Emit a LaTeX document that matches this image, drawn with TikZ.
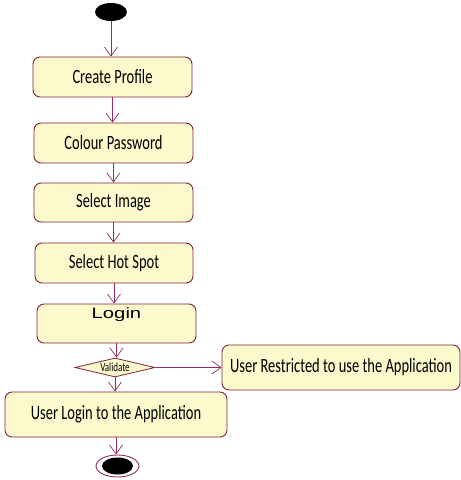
\documentclass[tikz,border=0pt]{standalone}
\usepackage{fontspec}
\setmainfont{Carlito}
\newfontfamily\arialfont{Liberation Sans}
\usetikzlibrary{shapes.geometric,arrows.meta}
\definecolor{flowline}{RGB}{145,45,100}
\definecolor{boxline}{RGB}{125,35,60}
\definecolor{boxfill}{RGB}{252,249,204}
% labels are set in a tall, narrow cut
\newcommand\tallText[1]{\scalebox{1}[1.4]{#1}}
\tikzset{
  activity/.style={draw=boxline, line width=0.9pt, fill=boxfill, rounded corners=7pt,
    minimum width=159pt, minimum height=40pt, inner sep=0pt,
    font=\fontsize{14.5}{16}\selectfont},
  flow/.style={draw=flowline, line width=0.7pt,
    -{Straight Barb[length=9pt,width=13pt,line width=0.7pt]}},
  decision/.style={diamond, draw=boxline, line width=0.8pt, fill=boxfill,
    minimum width=80pt, minimum height=19pt, inner sep=0pt, aspect=4.2,
    font=\fontsize{9}{10}\selectfont},
}
\begin{document}
\begin{tikzpicture}[x=1pt,y=-1pt]
\useasboundingbox (0,0) rectangle (461,480);

% initial node
\node[ellipse, fill=black, minimum width=32pt, minimum height=18pt, inner sep=0pt] (start) at (111,12) {};

% activities
\node[activity] (create) at (112.5,77) {\tallText{Create Profile}};
\node[activity] (colour) at (113.5,143) {\tallText{Colour Password}};
\node[activity, minimum height=39pt] (image) at (113.5,202.5) {\tallText{Select Image}};
\node[activity, minimum width=158pt] (hotspot) at (114,263) {\tallText{Select Hot Spot}};
\node[activity, minimum height=39pt, font=\arialfont\fontsize{15}{16}\selectfont] (login) at (116.5,323.5)
  {\raisebox{21pt}{\scalebox{1.35}[1]{Login}}};
\node[decision] (validate) at (115,367.5) {\tallText{Validate}};
\node[activity, minimum width=238pt, minimum height=45pt] (restricted) at (341,367.5) {\tallText{User Restricted to use the Application}};
\node[activity, minimum width=222pt, minimum height=45pt] (userlogin) at (116,414.5) {\tallText{User Login to the Application}};

% final node
\node[ellipse, draw=flowline, line width=0.9pt, fill=white, minimum width=43pt, minimum height=22pt, inner sep=0pt] (stop) at (117.5,466) {};
\fill[black] (stop.center) ellipse (15.5pt and 8.5pt);

% control flows
\draw[flow] (start.south) -- (start.south |- create.north);
\draw[flow] (create.south) -- (create.south |- colour.north);
\draw[flow] (colour.south) -- (colour.south |- image.north);
\draw[flow] (image.south) -- (image.south |- hotspot.north);
\draw[flow] (hotspot.south) -- (hotspot.south |- login.north);
\draw[flow] (login.south) -- (login.south |- validate.north);
\draw[flow] (validate.south) -- (validate.south |- userlogin.north);
\draw[flow] (userlogin.south) -- (userlogin.south |- stop.north);
\draw[flow] (validate.east) -- (restricted.west);
\end{tikzpicture}
\end{document}
